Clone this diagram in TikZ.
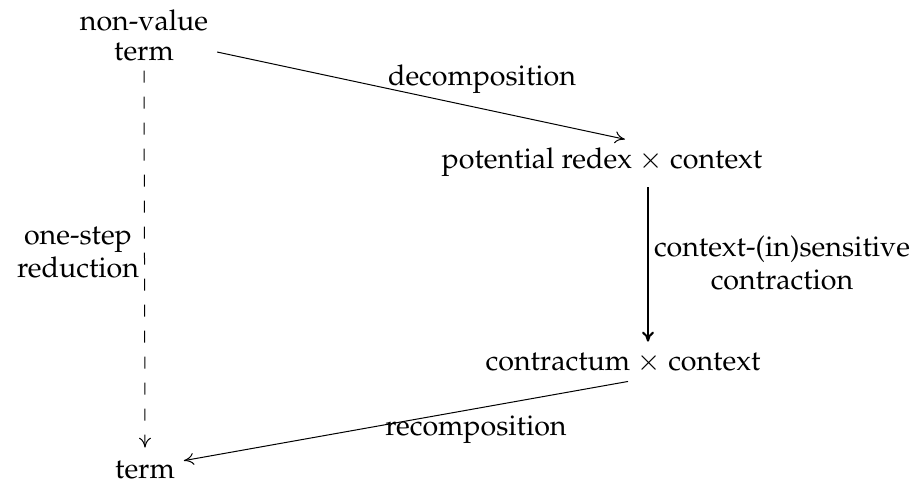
\documentclass[tikz,border=0pt]{standalone}
\usepackage[T1]{fontenc}
\usepackage{mathpazo}
\usetikzlibrary{arrows.meta}
\begin{document}
\begin{tikzpicture}[x=0.5pt,y=-0.5pt,
  lbl/.style={inner sep=0pt, outer sep=0pt, align=center,
    font=\fontsize{14.3}{16.5}\selectfont},
  arr/.style={line width=0.5pt, -{To[length=5pt,width=6pt]}},
  thickarr/.style={line width=1pt, -{To[length=5pt,width=6pt]}},
  dasharr/.style={line width=0.5pt, dash pattern=on 6pt off 7pt,
    -{To[length=5pt,width=6pt]}}]
\useasboundingbox (0,0) rectangle (919,481);

% objects
\node[lbl, font=\fontsize{14.3}{15}\selectfont] (nv) at (144,35) {non-value\\term};
\node[lbl, anchor=base] (redex) at (602,168) {potential redex $\times$ context};
\node[lbl, anchor=base] (contr) at (623,370) {contractum $\times$ context};
\node[lbl, anchor=base] (bt) at (145,478) {term};

% labels
\node[lbl, anchor=base] (ldec) at (482,86) {decomposition};
\node[lbl, anchor=base] (lrec) at (476,435) {recomposition};
\node[lbl] (lred) at (78,253) {one-step\\reduction};
\node[lbl] (lcon) at (782,263) {context-(in)sensitive\\contraction};

% connectors
\draw[arr] ([shift={(9,17)}]nv.east) -- ([shift={(23,-8)}]redex.north);
\draw[thickarr] ([shift={(46,11)}]redex.south) -- ([shift={(25,-11)}]contr.north);
\draw[arr] ([shift={(5,9)}]contr.south) -- ([shift={(9,-9)}]bt.east);
\draw[dasharr] ([shift={(0,10)}]nv.south) -- ([shift={(0,-13)}]bt.north);
\end{tikzpicture}
\end{document}
